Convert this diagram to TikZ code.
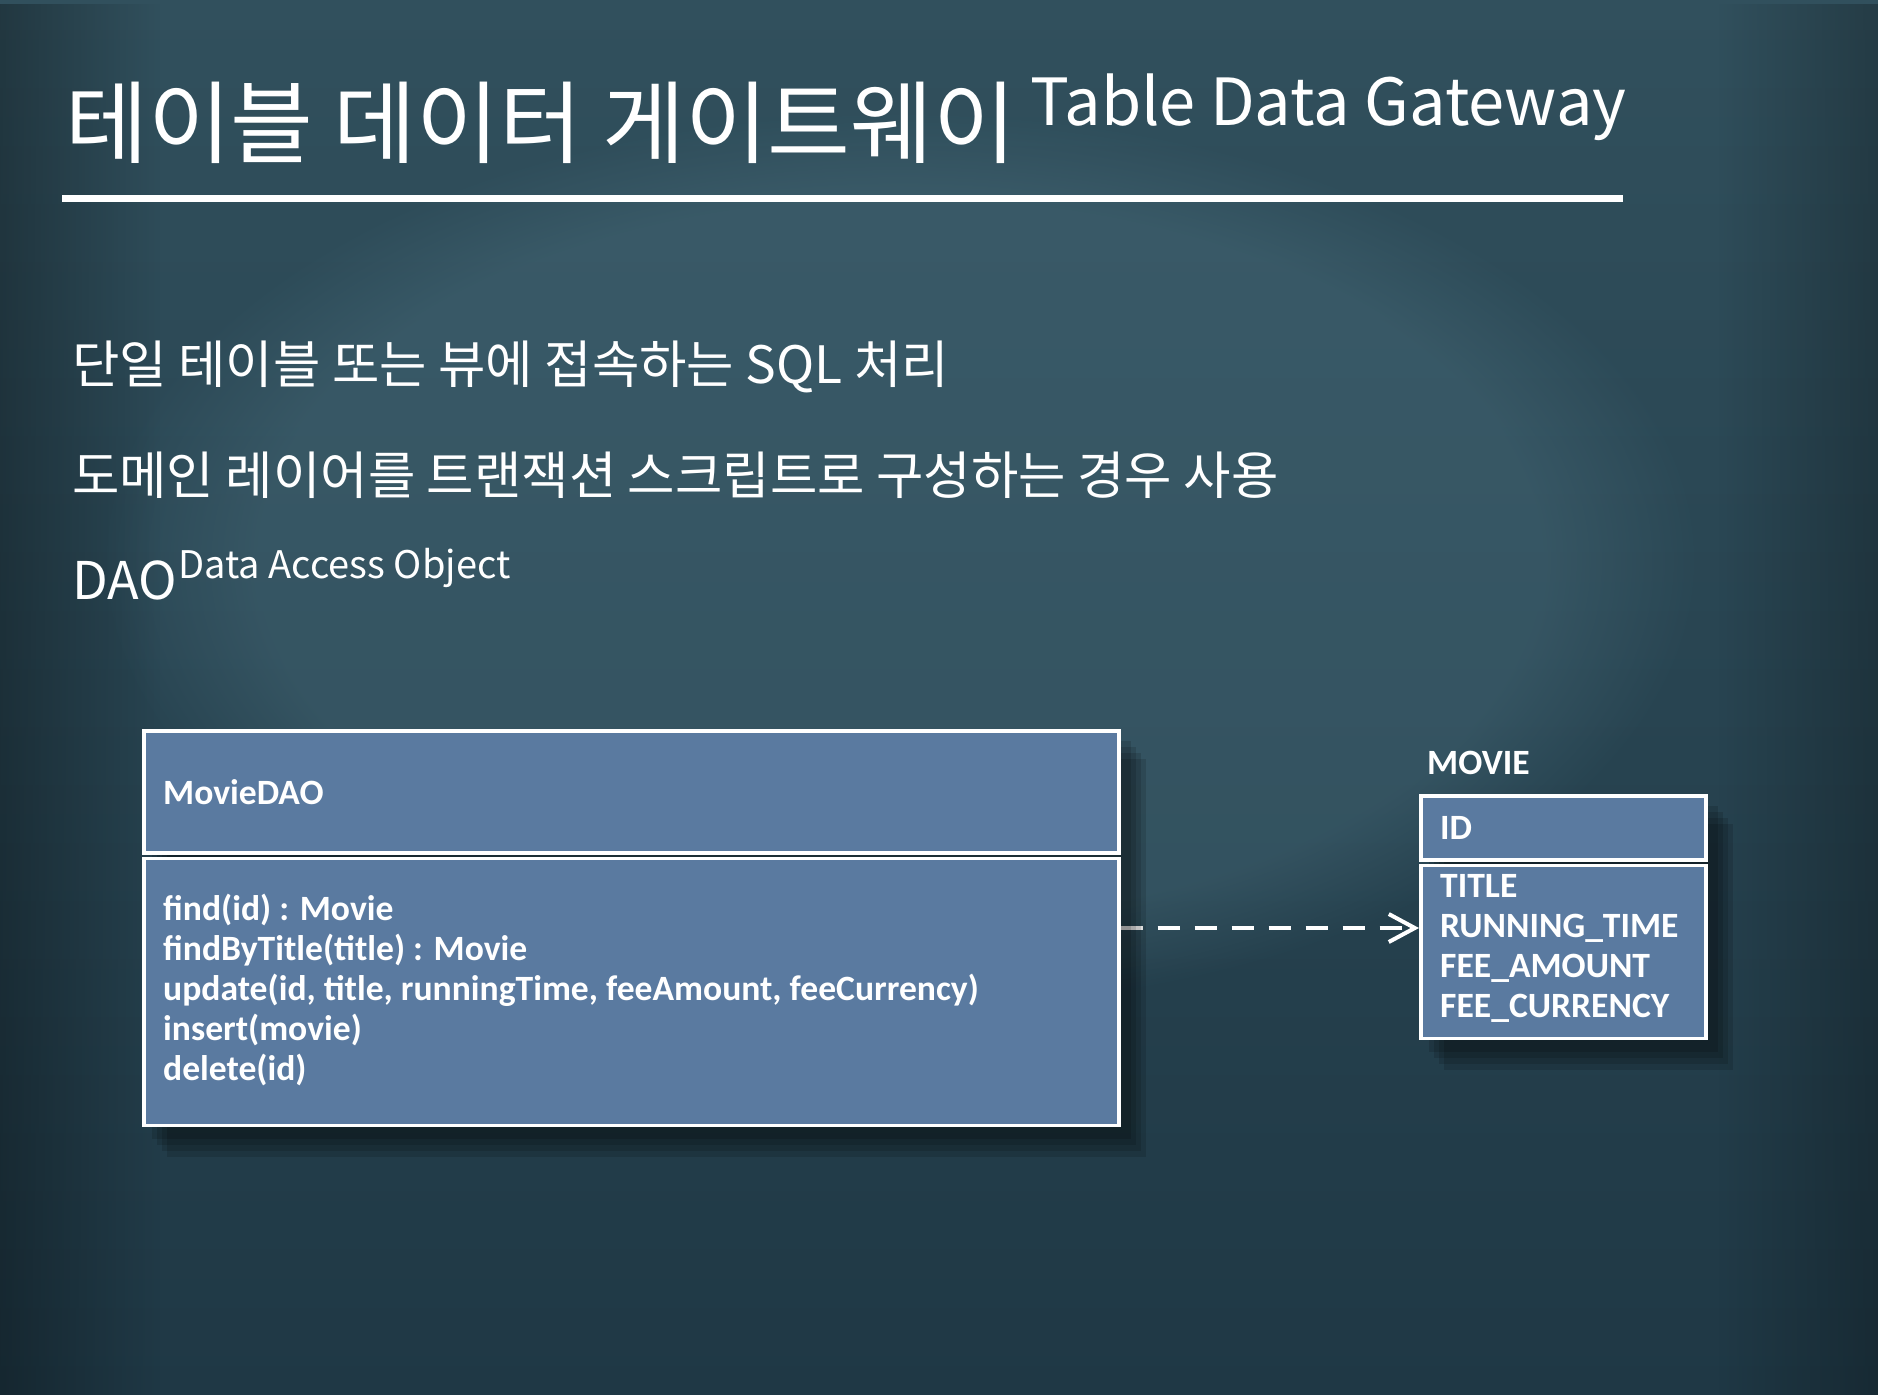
\documentclass[tikz,border=0pt]{standalone}
\usepackage{fontspec}
\setmainfont{Carlito}
\newfontfamily\handfont{Noto Sans CJK KR}
\usetikzlibrary{positioning,calc,shadows,arrows.meta,fadings,fit}

\definecolor{boardtop}{HTML}{31505D}
\definecolor{boardmid}{HTML}{385C6B}
\definecolor{boardbot}{HTML}{1F3845}
\definecolor{boardlight}{HTML}{4E7382}
\definecolor{umlblue}{HTML}{5A7AA0}

\pgfdeclarelayer{background}
\pgfdeclarelayer{connectors}
\pgfdeclarelayer{shadows}
\pgfsetlayers{background,connectors,shadows,main}

\begin{document}
\begin{tikzpicture}[
        x=1pt, y=-1pt,
        softshadow/.style={inner sep=0pt,
            drop shadow={shadow xshift=10pt, shadow yshift=-12pt, opacity=.13, fill=black, draw=none},
            drop shadow={shadow xshift=15pt, shadow yshift=-18pt, opacity=.13, fill=black, draw=none},
            drop shadow={shadow xshift=20pt, shadow yshift=-24pt, opacity=.13, fill=black, draw=none},
            drop shadow={shadow xshift=25pt, shadow yshift=-30pt, opacity=.13, fill=black, draw=none}},
        umlbox/.style={rectangle, draw=white, line width=3.5pt, fill=umlblue,
            inner sep=0pt, anchor=north west},
        member/.style={anchor=base west, inner sep=0pt, text=white, font=\bfseries\fontsize{35.6}{40}\selectfont},
        chalk/.style={anchor=base west, inner sep=0pt, text=white, font=\handfont\fontsize{#1}{#1}\selectfont},
        dep/.style={-{Straight Barb[length=26pt, width=28pt]}, draw=white, line width=4pt,
            dash pattern=on 22pt off 15pt}
    ]
    \useasboundingbox (0,0) rectangle (1878,1394);

    % chalkboard
    \begin{pgfonlayer}{background}
        \shade[top color=boardtop, middle color=boardmid, bottom color=boardbot] (0,0) rectangle (1878,1394);
        \fill[boardlight, opacity=.35, path fading=circle with fuzzy edge 20 percent] (900,560) ellipse (800 and 450);
        \fill[black, opacity=.3, path fading=east] (0,0) rectangle (160,1394);
        \fill[black, opacity=.25, path fading=west] (1718,0) rectangle (1878,1394);
    \end{pgfonlayer}

    % title
    \node[chalk=90] (title) at (65,156) {테이블 데이터 게이트웨이};
    \node[chalk=65] (titleen) at ($(title.base east)+(14,-30)$) {Table Data Gateway};
    \draw[white, line width=7pt] (62,198) -- (1623,198);

    % notes
    \node[chalk=51.5] (note1) at (72,383) {단일 테이블 또는 뷰에 접속하는 SQL 처리};
    \node[chalk=51.5] (note2) at (72,494) {도메인 레이어를 트랜잭션 스크립트로 구성하는 경우 사용};
    \node[chalk=52] (dao) at (72,599) {DAO};
    \node[chalk=38] (daoen) at ($(dao.base east)+(1,-21)$) {Data Access Object};

    % MovieDAO class
    \node[umlbox, minimum width=975pt, minimum height=122pt] (daohead) at (142,729) {};
    \node[umlbox, minimum width=975pt, minimum height=267pt, below=2pt of daohead] (daobody) {};
    \node[member, anchor=west] (daoname) at ($(daohead.west)+(21,0)$) {MovieDAO};
    \node[member] (m1) at ($(daobody.north west)+(21,64)$) {find(id) : Movie};
    \node[member] (m2) at ($(m1.base west)+(0,40)$) {findByTitle(title) : Movie};
    \node[member] (m3) at ($(m2.base west)+(0,40)$) {update(id, title, runningTime, feeAmount, feeCurrency)};
    \node[member] (m4) at ($(m3.base west)+(0,40)$) {insert(movie)};
    \node[member] (m5) at ($(m4.base west)+(0,40)$) {delete(id)};
    \coordinate (daomid) at ($(daohead.north east)!.5!(daobody.south east)$);

    % MOVIE table
    \node[umlbox, minimum width=285pt, minimum height=64pt] (movhead) at (1419,794) {};
    \node[umlbox, minimum width=285pt, minimum height=173pt, below=2pt of movhead] (movbody) {};
    \node[member] (movname) at ($(movhead.north west)+(8,-20)$) {MOVIE};
    \node[member, anchor=west] (colid) at ($(movhead.west)+(21,0)$) {ID};
    \node[member] (c1) at ($(movbody.north west)+(21,34)$) {TITLE};
    \node[member] (c2) at ($(c1.base west)+(0,40)$) {RUNNING\_TIME};
    \node[member] (c3) at ($(c2.base west)+(0,40)$) {FEE\_AMOUNT};
    \node[member] (c4) at ($(c3.base west)+(0,40)$) {FEE\_CURRENCY};

    % shadows behind both boxes
    \begin{pgfonlayer}{shadows}
        \node[softshadow, fit=(daohead)(daobody)] (daoshadow) {};
        \node[softshadow, fit=(movhead)(movbody)] (movshadow) {};
    \end{pgfonlayer}

    % dependency
    \begin{pgfonlayer}{connectors}
        \draw[dep] (daomid) -- (daomid -| movbody.west);
    \end{pgfonlayer}
\end{tikzpicture}
\end{document}
